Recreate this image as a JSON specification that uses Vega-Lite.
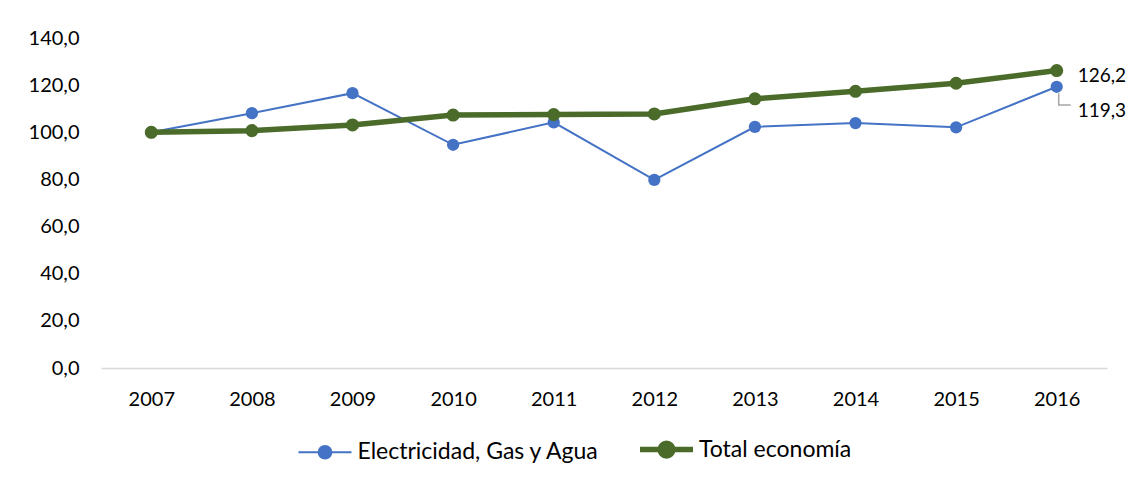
{
  "$schema": "https://vega.github.io/schema/vega-lite/v6.json",
  "width": 1006,
  "height": 330,
  "autosize": {"type": "none"},
  "padding": {"left": 101, "top": 38, "right": 23, "bottom": 119},
  "config": {
    "locale": {"number": {"decimal": ",", "thousands": ".", "grouping": [3], "currency": ["", " €"]}},
    "view": {"stroke": null},
    "font": "Lato"
  },
  "data": {
    "values": [
      {"year": 2007, "series": "Electricidad, Gas y Agua", "value": 100.0},
      {"year": 2008, "series": "Electricidad, Gas y Agua", "value": 108.1},
      {"year": 2009, "series": "Electricidad, Gas y Agua", "value": 116.6},
      {"year": 2010, "series": "Electricidad, Gas y Agua", "value": 94.7},
      {"year": 2011, "series": "Electricidad, Gas y Agua", "value": 104.2},
      {"year": 2012, "series": "Electricidad, Gas y Agua", "value": 79.8},
      {"year": 2013, "series": "Electricidad, Gas y Agua", "value": 102.3},
      {"year": 2014, "series": "Electricidad, Gas y Agua", "value": 103.9},
      {"year": 2015, "series": "Electricidad, Gas y Agua", "value": 102.1},
      {"year": 2016, "series": "Electricidad, Gas y Agua", "value": 119.3},
      {"year": 2007, "series": "Total economía", "value": 100.0},
      {"year": 2008, "series": "Total economía", "value": 100.7},
      {"year": 2009, "series": "Total economía", "value": 103.1},
      {"year": 2010, "series": "Total economía", "value": 107.3},
      {"year": 2011, "series": "Total economía", "value": 107.5},
      {"year": 2012, "series": "Total economía", "value": 107.8},
      {"year": 2013, "series": "Total economía", "value": 114.2},
      {"year": 2014, "series": "Total economía", "value": 117.4},
      {"year": 2015, "series": "Total economía", "value": 120.8},
      {"year": 2016, "series": "Total economía", "value": 126.2}
    ]
  },
  "encoding": {
    "x": {
      "field": "year", "type": "quantitative",
      "scale": {"domain": [2006.5, 2016.5], "nice": false, "zero": false},
      "axis": {
        "title": null, "grid": false, "ticks": false,
        "values": [2007, 2008, 2009, 2010, 2011, 2012, 2013, 2014, 2015, 2016],
        "format": "d", "labelFontSize": 20, "labelColor": "#000000",
        "labelPadding": 21, "domainColor": "#d9d9d9", "domainWidth": 1.5,
        "labelFlush": false
      }
    },
    "y": {
      "field": "value", "type": "quantitative",
      "scale": {"domain": [0, 140], "nice": false},
      "axis": {
        "title": null, "grid": false, "ticks": false, "domain": false,
        "values": [0, 20, 40, 60, 80, 100, 120, 140],
        "format": ".1f", "labelFontSize": 20, "labelColor": "#000000",
        "labelPadding": 22
      }
    },
    "color": {
      "field": "series", "type": "nominal",
      "scale": {"domain": ["Electricidad, Gas y Agua", "Total economía"], "range": ["#4472C4", "#4A6B2A"]},
      "legend": {
        "title": null, "orient": "none", "direction": "horizontal",
        "legendX": 198, "legendY": 400,
        "symbolType": "M-1,0L1,0M0.24,0A0.24,0.24,0,1,1,-0.24,0A0.24,0.24,0,1,1,0.24,0Z",
        "symbolSize": 2809,
        "symbolOffset": 14.5,
        "labelFontSize": 23, "labelColor": "#000000", "labelOffset": 21,
        "labelLimit": 500,
        "columnPadding": 28.5,
        "encode": {
          "symbols": {
            "update": {
              "size": {"value": 2809},
              "fill": {"scale": "color", "field": "value"},
              "stroke": {"scale": "color", "field": "value"},
              "strokeWidth": {"signal": "datum.value === 'Total economía' ? 5.5 : 2"},
              "opacity": {"value": 1}
            }
          }
        }
      }
    }
  },
  "layer": [
    {
      "transform": [{"filter": "datum.series === 'Electricidad, Gas y Agua'"}],
      "mark": {"type": "line", "strokeWidth": 2}
    },
    {
      "transform": [{"filter": "datum.series === 'Electricidad, Gas y Agua'"}],
      "mark": {"type": "point", "filled": true, "opacity": 1, "size": 150}
    },
    {
      "transform": [{"filter": "datum.series === 'Total economía'"}],
      "mark": {"type": "line", "strokeWidth": 5.5}
    },
    {
      "transform": [{"filter": "datum.series === 'Total economía'"}],
      "mark": {"type": "point", "filled": true, "opacity": 1, "size": 170}
    },
    {
      "data": {"values": [
        {"year": 2016.02, "value": 116.6, "i": 1},
        {"year": 2016.02, "value": 111.6, "i": 2},
        {"year": 2016.14, "value": 111.6, "i": 3}
      ]},
      "mark": {"type": "line", "color": "#a6a6a6", "strokeWidth": 1.5},
      "encoding": {"order": {"field": "i", "type": "quantitative"}, "color": {"value": "#a6a6a6"}}
    },
    {
      "transform": [{"filter": "datum.series === 'Total economía' && datum.year === 2016"}],
      "mark": {"type": "text", "align": "left", "baseline": "middle", "dx": 21, "dy": 5, "fontSize": 19, "color": "#000000"},
      "encoding": {"text": {"field": "value", "type": "quantitative", "format": ".1f"}, "color": {"value": "#000000"}}
    },
    {
      "transform": [{"filter": "datum.series === 'Electricidad, Gas y Agua' && datum.year === 2016"}],
      "mark": {"type": "text", "align": "left", "baseline": "middle", "dx": 21, "dy": 24, "fontSize": 19, "color": "#000000"},
      "encoding": {"text": {"field": "value", "type": "quantitative", "format": ".1f"}, "color": {"value": "#000000"}}
    }
  ]
}
